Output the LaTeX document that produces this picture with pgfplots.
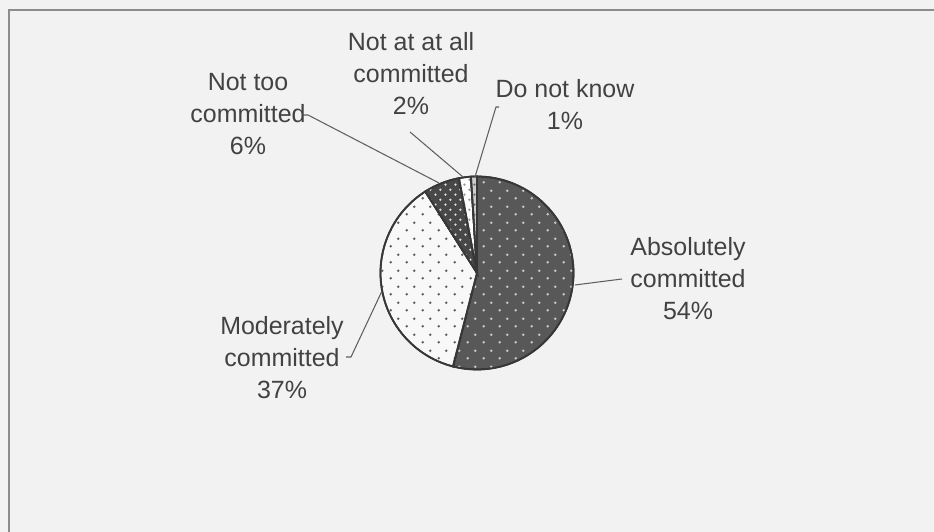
\documentclass[border=0pt]{standalone}
\usepackage{fontspec}
\setmainfont{Liberation Sans}
\usepackage{pgfplots}
\pgfplotsset{compat=1.18}
\usetikzlibrary{patterns.meta}
\definecolor{bg}{RGB}{242,242,242}
\definecolor{frame}{RGB}{140,140,140}
\definecolor{txt}{RGB}{66,66,66}
\definecolor{edge}{RGB}{55,55,55}
\definecolor{lead}{RGB}{95,95,95}
\definecolor{cA}{RGB}{88,88,88}
\definecolor{dA}{RGB}{200,200,200}
\definecolor{cB}{RGB}{248,248,248}
\definecolor{dB}{RGB}{95,95,95}
\definecolor{cC}{RGB}{72,72,72}
\definecolor{dC}{RGB}{225,225,225}
\definecolor{cD}{RGB}{252,252,252}
\definecolor{dD}{RGB}{150,150,150}
\definecolor{cE}{RGB}{205,205,205}
\definecolor{dE}{RGB}{110,110,110}
\tikzdeclarepattern{name=sdots, type=uncolored,
  bottom left={(0pt,0pt)}, top right={(4.4pt,4.4pt)}, tile size={(4.4pt,4.4pt)},
  code={\fill (1.1pt,1.1pt) circle (0.42pt); \fill (3.3pt,3.3pt) circle (0.42pt);}}
\tikzdeclarepattern{name=ddots, type=uncolored,
  bottom left={(0pt,0pt)}, top right={(2.8pt,2.8pt)}, tile size={(2.8pt,2.8pt)},
  code={\fill (0.7pt,0.7pt) circle (0.36pt); \fill (2.1pt,2.1pt) circle (0.36pt);}}
\tikzset{
  lab/.style={align=center, text=txt, font=\fontsize{7.1}{9.1}\selectfont, inner sep=0pt},
  slice/.style={draw=edge, line width=0.5pt},
  leader/.style={draw=lead, line width=0.3pt},
}
% data (percent): Absolutely 54, Moderately 37, Not too 6, Not at all 2, Do not know 1
% slices start at 12 o'clock and run clockwise: 3.6 degrees per percent
\begin{document}
\begin{tikzpicture}
\begin{axis}[
  width=9.34cm, height=5.32cm, scale only axis,
  xmin=0, xmax=934, ymin=0, ymax=532, y dir=reverse,
  hide axis, clip=false,
]
\fill[bg] (axis cs:0,0) rectangle (axis cs:934,532);
\draw[frame, line width=0.6pt] (axis cs:9,10) rectangle (axis cs:960,560);
% Absolutely committed 54%
\addplot[slice, no markers, samples=90, fill=cA, postaction={pattern=sdots, pattern color=dA}, domain=-104.4:90]
  ({477+96.5*cos(x)},{273-96.5*sin(x)}) -- (axis cs:477,273) -- cycle;
% Moderately committed 37%
\addplot[slice, no markers, samples=90, fill=cB, postaction={pattern=sdots, pattern color=dB}, domain=-237.6:-104.4]
  ({477+96.5*cos(x)},{273-96.5*sin(x)}) -- (axis cs:477,273) -- cycle;
% Not too committed 6%
\addplot[slice, no markers, samples=30, fill=cC, postaction={pattern=ddots, pattern color=dC}, domain=-259.2:-237.6]
  ({477+96.5*cos(x)},{273-96.5*sin(x)}) -- (axis cs:477,273) -- cycle;
% Not at at all committed 2%
\addplot[slice, no markers, samples=15, fill=cD, postaction={pattern=ddots, pattern color=dD}, domain=-266.4:-259.2]
  ({477+96.5*cos(x)},{273-96.5*sin(x)}) -- (axis cs:477,273) -- cycle;
% Do not know 1%
\addplot[slice, no markers, samples=10, fill=cE, postaction={pattern=ddots, pattern color=dE}, domain=-270:-266.4]
  ({477+96.5*cos(x)},{273-96.5*sin(x)}) -- (axis cs:477,273) -- cycle;
% leader lines
\addplot[leader, no markers] coordinates {(575,285) (622,279)};
\addplot[leader, no markers] coordinates {(382,291) (351,357) (346,357)};
\addplot[leader, no markers] coordinates {(303,115) (308,115) (439,183)};
\addplot[leader, no markers] coordinates {(410,132) (463,177)};
\addplot[leader, no markers] coordinates {(499,107) (496,107) (475,177)};
% labels
\node[lab] at (axis cs:688,279) {Absolutely\\committed\\54\%};
\node[lab] at (axis cs:282,358) {Moderately\\committed\\37\%};
\node[lab] at (axis cs:248,114) {Not too\\committed\\6\%};
\node[lab] at (axis cs:411,74) {Not at at all\\committed\\2\%};
\node[lab] at (axis cs:565,105) {Do not know\\1\%};
\end{axis}
\pgfresetboundingbox
\useasboundingbox (current axis.south west) rectangle (current axis.north east);
\end{tikzpicture}
\end{document}
